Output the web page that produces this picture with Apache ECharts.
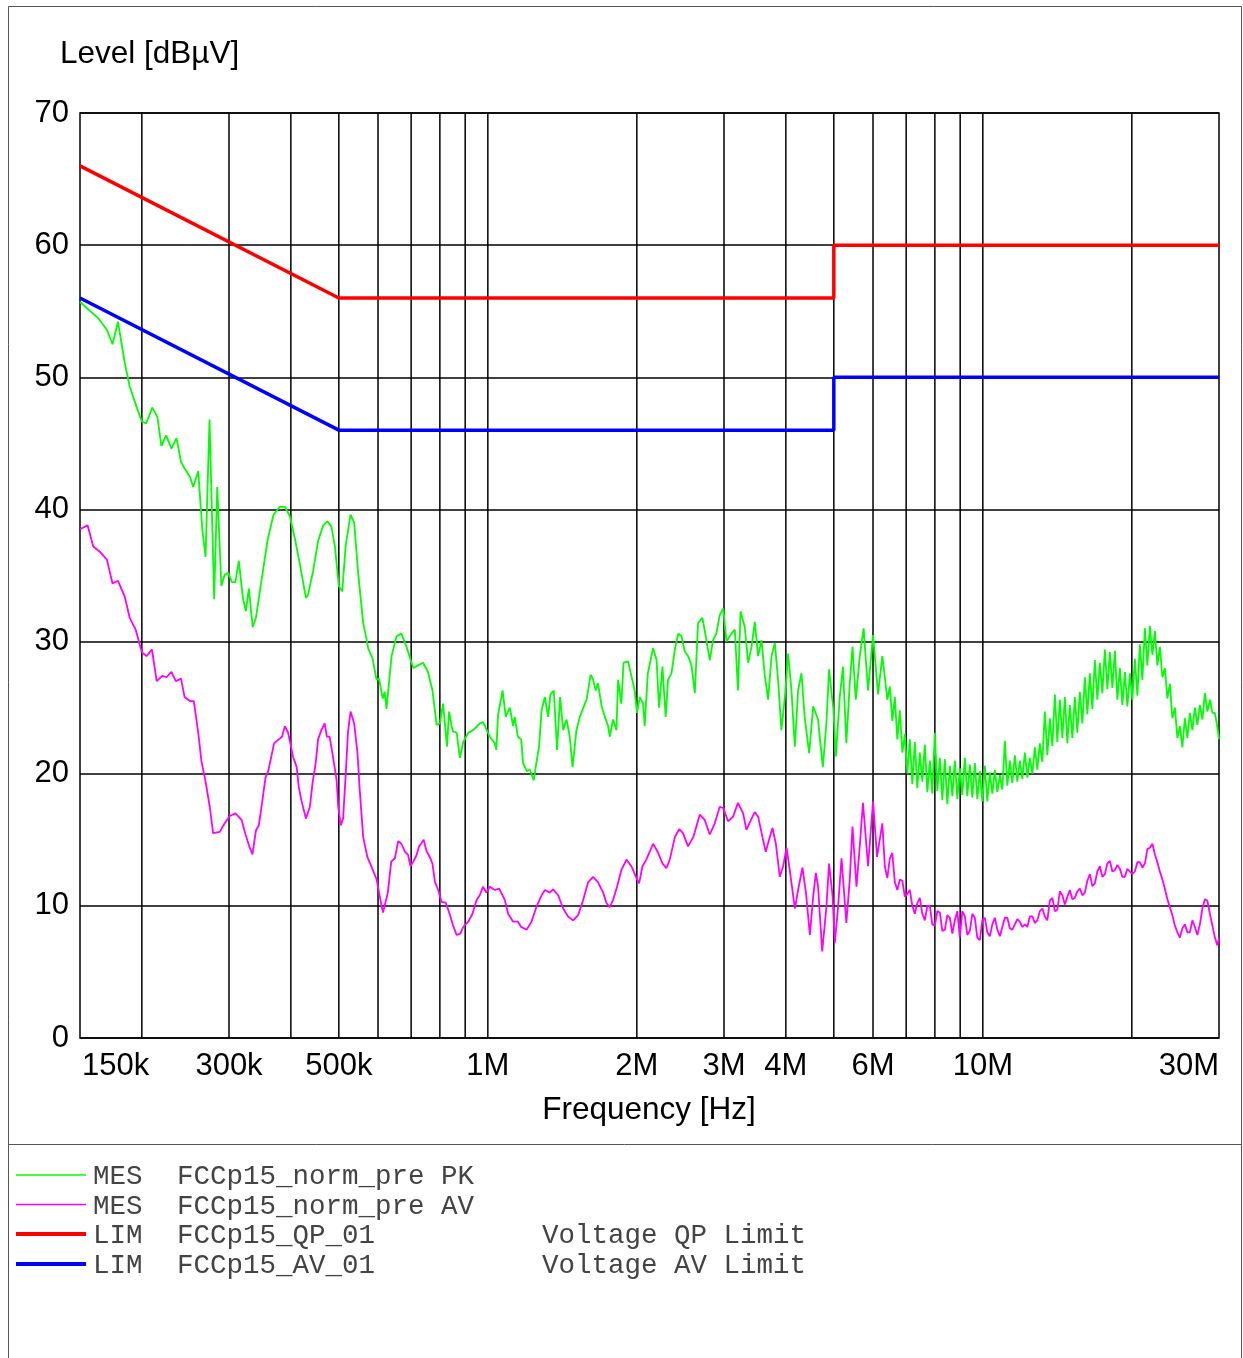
<!DOCTYPE html>
<html>
<head>
<meta charset="utf-8">
<script src="https://cdn.jsdelivr.net/npm/echarts@6/dist/echarts.min.js"></script>
<style>
html,body{margin:0;padding:0;background:#fff;}
#chart{width:1243px;height:1358px;}
</style>
</head>
<body>
<div id="chart"></div>
<script>
// Frequencies in MHz, levels in dBµV
// Peak trace, 150 kHz .. 6.3 MHz
const pkFreq = [0.150,0.163,0.170,0.1745,0.179,0.1847,0.189,0.195,0.200,0.204,0.210,0.215,0.219,0.224,0.2295,0.235,0.240,0.244,0.250,0.254,0.260,0.263,0.265,0.269,0.274,0.280,0.284,0.2895,0.294,0.299,0.304,0.309,0.314,0.320,0.3245,0.329,0.335,0.340,0.346,0.359,0.369,0.380,0.389,0.398,0.407,0.417,0.429,0.433,0.444,0.454,0.465,0.474,0.483,0.491,0.500,0.508,0.516,0.528,0.537,0.547,0.560,0.568,0.573,0.585,0.596,0.603,0.613,0.619,0.624,0.639,0.654,0.669,0.685,0.707,0.723,0.740,0.757,0.773,0.788,0.800,0.812,0.827,0.835,0.845,0.850,0.865,0.878,0.892,0.913,0.934,0.963,0.978,0.987,
1.009,1.033,1.040,1.049,1.071,1.087,1.108,1.125,1.133,1.150,1.168,1.178,1.198,1.216,1.238,1.253,1.269,1.284,1.304,1.324,1.338,1.359,1.380,1.399,1.420,1.442,1.464,1.483,1.510,1.534,1.563,1.583,1.613,1.632,1.652,1.669,1.698,1.724,1.750,1.763,1.791,1.819,1.833,1.861,1.880,1.920,1.950,1.980,2.001,2.028,2.059,2.074,2.105,2.157,2.192,2.218,2.253,2.287,2.312,2.350,2.387,2.424,2.461,2.500,2.538,2.579,2.619,2.659,2.713,2.756,2.808,2.850,2.895,2.941,2.990,3.035,3.105,3.155,3.201,3.240,3.304,3.356,3.410,3.462,3.516,3.572,3.627,3.683,3.742,3.800,3.858,3.918,3.982,4.043,4.106,4.171,4.235,4.302,4.366,4.458,4.542,4.647,4.682,4.751,4.830,4.891,4.992,5.047,5.140,5.217,5.300,5.385,5.454,5.538,5.641,5.743,5.863,6.001,6.142,6.265];
const pkLevel = [55.7,54.5,53.6,52.5,54.2,51.1,49.3,47.8,46.65,46.5,47.7,47.0,44.8,45.6,44.6,45.4,43.6,43.1,42.5,41.7,42.9,40.2,38.5,36.4,46.8,33.2,41.7,34.2,35.05,35.2,34.5,34.5,36.1,33.3,32.3,34.0,31.1,31.8,33.7,37.7,39.6,40.2,40.2,39.5,37.9,35.9,33.3,33.5,35.4,37.6,38.8,39.1,38.7,37.2,34.2,33.8,37.2,39.6,39.0,35.2,31.4,30.3,29.5,28.7,27.1,27.2,25.7,26.2,24.9,28.9,30.4,30.6,29.6,28.0,28.2,28.4,27.7,26.3,23.7,23.8,25.3,22.05,24.7,23.6,23.2,23.1,21.2,22.4,23.1,23.3,23.8,23.9,23.6,
22.8,22.3,21.8,24.5,26.3,24.3,25.0,23.6,24.3,22.8,22.6,20.8,20.2,20.3,19.5,20.8,22.05,24.8,25.8,24.3,26.0,26.3,21.8,25.8,23.3,24.1,22.8,20.5,23.3,24.3,25.1,25.6,27.5,27.1,26.3,26.85,25.1,24.3,23.6,22.8,24.1,23.3,27.1,25.3,28.4,28.5,27.4,26.3,24.6,25.8,25.3,23.6,27.6,29.5,28.6,25.0,28.1,24.3,27.1,27.6,29.4,30.6,30.4,29.25,28.9,28.2,26.1,31.4,31.8,30.4,28.6,30.1,30.6,32.0,32.5,30.0,30.6,30.9,26.3,32.3,31.1,28.4,29.6,31.5,28.9,30.1,27.4,25.6,28.9,29.9,27.1,23.3,25.8,29.1,26.3,22.05,26.3,27.6,24.3,21.55,25.1,24.1,22.8,20.5,23.8,27.9,24.8,21.3,25.8,28.1,22.3,26.85,29.6,25.6,28.9,31.0,26.3,30.5,26.0,28.9];

// Average trace, 150 kHz .. 6.3 MHz
const avFreq = [0.150,0.1554,0.1595,0.1645,0.170,0.1745,0.179,0.1847,0.189,0.1944,0.200,0.2044,0.2096,0.2143,0.220,0.2243,0.2295,0.2342,0.240,0.244,0.250,0.2547,0.260,0.264,0.2688,0.2743,0.2786,0.2873,0.294,0.3011,0.309,0.3181,0.324,0.3304,0.3346,0.340,0.3446,0.349,0.3555,0.360,0.370,0.378,0.384,0.389,0.395,0.404,0.411,0.415,0.420,0.429,0.437,0.4425,0.449,0.454,0.461,0.468,0.473,0.479,0.487,0.495,0.4985,0.5047,0.510,0.516,0.5217,0.528,0.537,0.5454,0.551,0.560,0.571,0.580,0.585,0.596,0.605,0.614,0.619,0.628,0.638,0.649,0.659,0.669,0.680,0.690,0.698,0.707,0.718,0.726,0.733,0.742,0.751,0.763,0.773,0.782,0.794,0.806,0.822,0.837,0.850,0.865,0.880,0.892,0.913,0.931,0.949,0.963,0.978,0.993,
1.009,1.033,1.054,1.082,1.099,1.125,1.150,1.168,1.198,1.225,1.253,1.284,1.304,1.334,1.355,1.387,1.420,1.452,1.487,1.522,1.558,1.595,1.632,1.669,1.710,1.737,1.763,1.791,1.824,1.861,1.906,1.950,1.997,2.021,2.053,2.090,2.157,2.203,2.254,2.295,2.331,2.387,2.435,2.479,2.538,2.600,2.680,2.743,2.808,2.874,2.941,2.990,3.057,3.130,3.201,3.279,3.330,3.410,3.462,3.516,3.588,3.643,3.711,3.759,3.818,3.889,3.950,4.013,4.074,4.171,4.235,4.321,4.392,4.473,4.542,4.599,4.647,4.737,4.830,4.891,4.970,5.023,5.100,5.182,5.300,5.385,5.454,5.556,5.641,5.726,5.863,6.001,6.114,6.265];
const avLevel = [38.5,38.8,37.2,36.8,36.2,34.4,34.6,33.4,31.8,30.9,29.2,28.9,29.4,27.0,27.4,27.3,27.7,27.0,27.2,25.8,25.5,25.5,23.1,20.9,19.5,17.5,15.5,15.6,16.25,16.8,17.0,16.5,15.4,14.4,13.9,15.7,16.1,17.5,19.7,20.2,22.3,22.6,22.8,23.6,23.1,21.3,20.5,19.0,18.0,16.6,17.5,19.3,20.8,22.6,23.3,23.8,22.8,22.8,21.2,19.5,17.5,16.1,16.6,19.8,23.1,24.7,23.8,21.55,18.8,15.2,13.7,13.1,13.2,12.0,10.7,9.5,9.4,11.0,13.35,13.6,14.9,14.7,14.1,13.85,13.0,13.35,13.85,14.5,14.7,15.0,14.2,13.7,13.2,11.8,11.2,10.3,10.25,9.4,8.55,7.8,7.9,8.4,8.8,9.4,10.45,10.8,11.45,11.0,
11.45,11.2,11.3,10.45,9.4,8.8,8.8,8.4,8.2,8.8,9.9,10.8,11.2,11.0,11.25,10.8,9.8,9.2,8.9,9.3,10.45,11.8,12.2,11.8,11.0,10.2,9.9,10.45,11.45,12.7,13.5,13.0,12.1,11.7,13.0,13.5,14.7,14.1,13.2,12.85,13.5,15.2,15.8,15.5,14.5,15.2,16.9,16.5,15.4,16.25,17.5,17.4,16.4,16.75,17.8,17.0,15.75,16.6,17.1,16.75,15.2,14.1,15.2,15.9,14.7,12.2,13.0,14.4,12.7,9.8,11.2,12.9,11.0,7.8,10.7,12.5,11.45,6.55,9.9,13.2,10.8,7.2,9.9,13.6,8.7,12.0,16.0,11.45,14.5,17.8,13.0,17.9,13.7,16.25];

// Densely sampled upper band, 6.3 MHz .. 30 MHz (shared frequency points)
const hfFreq = [6.339,6.413,6.488,6.564, 6.641,6.719,6.797,6.877, 6.957,7.038,7.121,7.204, 7.288,7.373,7.459,7.547, 7.635,7.724,7.815,7.906, 7.999,8.093,8.187,8.283, 8.380,8.478,8.577,8.678, 8.779,8.882,8.986,9.091, 9.197,9.305,9.413,9.524, 9.635,9.748,9.862,9.977,
10.094,10.212,10.331,10.452, 10.575,10.699,10.824,10.950, 11.078,11.208,11.339,11.471, 11.606,11.742,11.879,12.018, 12.159,12.301,12.445,12.590, 12.738,12.887,13.038,13.190, 13.344,13.500,13.658,13.818, 13.980,14.143,14.309,14.476, 14.645,14.817,14.990,15.165, 15.343,15.522,15.704,15.888, 16.074,16.262,16.452,16.645, 16.839,17.036,17.236,17.437, 17.642,17.848,18.057,18.268, 18.482,18.698,18.917,19.139, 19.362,19.589,19.818,20.050, 20.284,20.522,20.762,21.004, 21.251,21.499,21.751,22.005, 22.263,22.523,22.787,23.053, 23.323,23.596,23.872,24.151, 24.434,24.720,25.009,25.302, 25.598,25.897,26.200,26.507, 26.817,27.131,27.448,27.769, 28.094,28.423,28.755,29.091, 29.432,29.776,30.0];
const pkHfLevel = [27.3,25.6,26.6,24.0, 25.8,22.6,24.8,21.6, 23.0,20.0,22.6,19.2, 22.4,18.9,21.6,19.4, 22.2,18.6,21.0,18.5, 23.1,18.7,21.2,18.0, 21.1,17.7,20.6,18.3, 21.0,18.1,20.4,18.4, 21.2,18.3,20.7,18.2, 20.8,18.1,20.2,17.9,
20.6,17.9,20.1,18.5, 20.3,18.6,19.9,18.8, 22.5,19.1,21.0,19.3, 21.4,19.4,21.0,19.6, 21.6,19.7,21.2,20.0, 22.0,20.3,22.3,20.9, 24.7,21.4,24.2,22.1, 26.0,22.4,25.6,22.7, 25.8,22.3,25.2,22.7, 25.8,23.1,26.2,23.8, 27.3,24.5,27.6,24.9, 28.6,25.6,28.4,26.1, 29.4,26.4,29.2,26.5, 29.3,25.6,28.0,25.2, 27.7,25.1,27.6,25.6, 28.7,25.9,29.8,27.1, 31.0,28.2,31.2,29.0, 30.8,28.2,29.6,27.3, 28.0,25.7,26.8,24.2, 25.0,22.7,23.6,22.0, 24.2,22.7,24.6,23.3, 25.0,23.7,25.2,24.1, 26.1,24.7,25.6,24.6, 24.6,23.5,22.6];
const avHfLevel = [13.0,12.1,13.6,14.0, 11.8,11.2,12.0,11.9, 10.7,10.9,11.2,10.0, 9.4,10.2,10.6,9.4, 8.9,10.0,10.0,8.6, 8.5,9.6,9.5,8.1, 8.2,9.3,9.1,7.9, 8.9,9.6,7.6,9.6, 9.2,7.8,8.1,9.4, 9.1,7.6,7.4,8.9,
9.1,8.0,7.7,8.6, 9.1,8.2,7.7,8.4, 9.1,9.1,8.3,8.2, 8.6,9.0,8.8,8.4, 8.6,8.4,9.2,9.2, 8.7,8.9,9.6,9.8, 9.2,8.9,10.4,10.6, 9.6,9.7,11.1,10.8, 10.1,10.7,11.2,10.5, 10.6,11.1,11.3,10.8, 11.0,11.9,12.4,11.5, 11.7,12.6,13.0,12.2, 12.4,13.2,13.4,12.6, 12.7,13.1,12.8,12.2, 12.2,12.8,12.6,12.4, 12.6,13.3,13.3,12.9, 13.2,14.3,14.4,14.7, 13.9,13.3,12.6,12.0, 11.3,10.5,9.9,9.3, 8.5,8.0,7.6,8.3, 8.6,8.0,8.0,8.9, 8.4,7.8,8.6,9.8, 10.5,10.4,9.4,8.5, 7.6,7.0,7.6];

const qpFreq = [0.15, 0.5, 5, 5, 30];
const qpLevel = [66, 56, 56, 60, 60];
const avLimFreq = [0.15, 0.5, 5, 5, 30];
const avLimLevel = [56, 46, 46, 50, 50];

const gridFreqs = [0.2,0.3,0.4,0.5,0.6,0.7,0.8,0.9,1,2,3,4,5,6,7,8,9,10,20];
const tickFreqs = [0.15,0.3,0.5,1,2,3,4,6,10,30];
const tickLabels = ['150k','300k','500k','1M','2M','3M','4M','6M','10M','30M'];

const legendRows = [
  {color:'#00ff00', width:1.5, a:'MES', b:'FCCp15_norm_pre PK', c:''},
  {color:'#ff00ff', width:1.5, a:'MES', b:'FCCp15_norm_pre AV', c:''},
  {color:'#ff0000', width:4, a:'LIM', b:'FCCp15_QP_01', c:'Voltage QP Limit'},
  {color:'#0000ff', width:4, a:'LIM', b:'FCCp15_AV_01', c:'Voltage AV Limit'}
];

const SANS = '"Liberation Sans", Arial, sans-serif';
const MONO = '"Liberation Mono", "Courier New", monospace';

const chart = echarts.init(document.getElementById('chart'), null, {renderer:'canvas'});

const zip = (xs, ys) => xs.map((x, i) => [x, ys[i]]);
const pkData = zip(pkFreq, pkLevel).concat(zip(hfFreq, pkHfLevel));
const avData = zip(avFreq, avLevel).concat(zip(hfFreq, avHfLevel));

const graphics = [
  {type:'rect', shape:{x:8.5, y:6.5, width:1233, height:1400}, style:{fill:'none', stroke:'#555', lineWidth:1}, silent:true},
  {type:'line', shape:{x1:8, y1:1144.5, x2:1241, y2:1144.5}, style:{stroke:'#555', lineWidth:1}, silent:true},
  {type:'text', left:60, top:38, style:{text:'Level [dBµV]', font:'31.5px ' + SANS, fill:'#000'}},
  {type:'text', x:649, y:1110, style:{text:'Frequency [Hz]', font:'31.5px ' + SANS, fill:'#000', align:'center', verticalAlign:'middle'}}
];
const legendY = [1175, 1204.5, 1234, 1264];
legendRows.forEach((r, i) => {
  const y = legendY[i];
  graphics.push({type:'line', shape:{x1:16, y1:y, x2:86, y2:y}, style:{stroke:r.color, lineWidth:r.width}});
  graphics.push({type:'text', x:93, y:y + 2, style:{text:r.a, font:'27.5px ' + MONO, fill:'#444', verticalAlign:'middle'}});
  graphics.push({type:'text', x:177, y:y + 2, style:{text:r.b, font:'27.5px ' + MONO, fill:'#444', verticalAlign:'middle'}});
  if (r.c) graphics.push({type:'text', x:542, y:y + 2, style:{text:r.c, font:'27.5px ' + MONO, fill:'#444', verticalAlign:'middle'}});
});

chart.setOption({
  animation:false,
  backgroundColor:'#fff',
  grid:{left:80, top:113, width:1139, height:925, show:true, borderColor:'#000', borderWidth:1.5, backgroundColor:'transparent'},
  xAxis:{type:'log', logBase:10, min:0.15, max:30,
    axisLine:{show:false}, axisTick:{show:false}, axisLabel:{show:false}, splitLine:{show:false}},
  yAxis:{type:'value', min:0, max:70, interval:10,
    axisLine:{show:false}, axisTick:{show:false},
    axisLabel:{fontSize:31, fontFamily:SANS, color:'#000', margin:11},
    splitLine:{lineStyle:{color:'#000', width:1.5}}},
  graphic:graphics,
  series:[
    {type:'custom', name:'vgrid', z:1, silent:true, clip:false,
      data:gridFreqs.map(f => [f, 0]),
      encode:{x:0, y:1},
      renderItem:(params, api) => {
        const f = api.value(0);
        const p0 = api.coord([f, 0]);
        const p1 = api.coord([f, 70]);
        return {type:'line', shape:{x1:p0[0], y1:p0[1], x2:p1[0], y2:p1[1]}, style:{stroke:'#000', lineWidth:1.5}};
      }},
    {type:'custom', name:'xlabels', z:1, silent:true, clip:false,
      data:tickFreqs.map((f, i) => [f, 0, i]),
      encode:{x:0, y:1},
      renderItem:(params, api) => {
        const i = api.value(2);
        const p = api.coord([api.value(0), 0]);
        const align = i === 0 ? 'left' : (i === tickFreqs.length - 1 ? 'right' : 'center');
        const dx = i === 0 ? 2 : 0;
        return {type:'text', x:p[0] + dx, y:p[1] + 28,
          style:{text:tickLabels[i], font:'31px ' + SANS, fill:'#000', align:align, verticalAlign:'middle'}};
      }},
    {type:'line', name:'PK', z:3, data:pkData, showSymbol:false, symbol:'none',
      lineStyle:{color:'#00ff00', width:1.8}},
    {type:'line', name:'AV', z:3, data:avData, showSymbol:false, symbol:'none',
      lineStyle:{color:'#ff00ff', width:1.8}},
    {type:'line', name:'QP limit', z:4, data:zip(qpFreq, qpLevel), showSymbol:false, symbol:'none',
      lineStyle:{color:'#ff0000', width:3.5}},
    {type:'line', name:'AV limit', z:4, data:zip(avLimFreq, avLimLevel), showSymbol:false, symbol:'none',
      lineStyle:{color:'#0000ff', width:3.5}}
  ]
});
</script>
</body>
</html>
